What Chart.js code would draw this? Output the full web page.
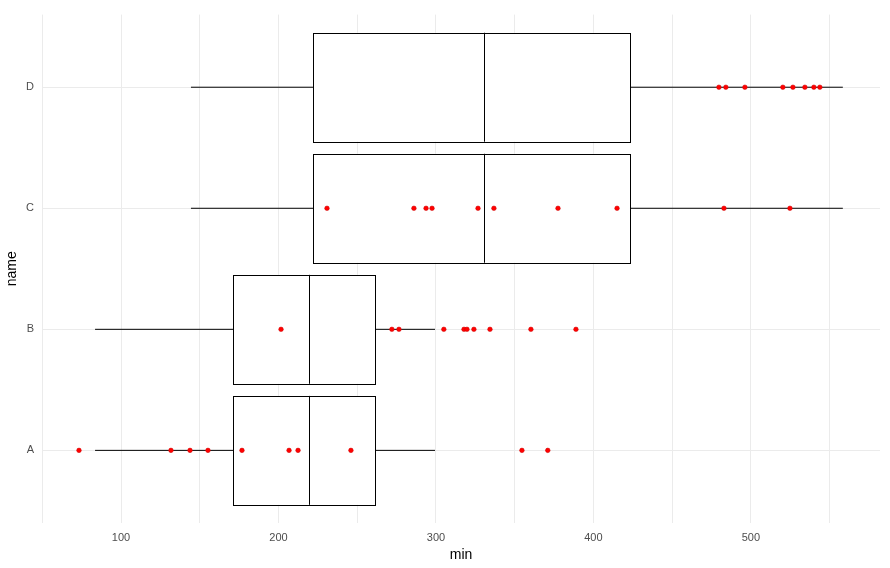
<!DOCTYPE html>
<html><head><meta charset="utf-8">
<script src="https://cdn.jsdelivr.net/npm/chart.js@4"></script>
<style>html,body{margin:0;padding:0;background:#fff}#w{width:890px;height:568px}</style>
</head><body><div id="w"><canvas id="c"></canvas></div>
<script>
const categories = ["A","B","C","D"];
const q1 = [171.1, 171.1, 221.9, 221.9];
const median = [219.4, 219.4, 330.5, 330.5];
const q3 = [261.3, 261.3, 423.2, 423.2];
const whiskerLow = [83.5, 83.5, 144.4, 144.4];
const whiskerHigh = [299.4, 299.4, 558.4, 558.4];
const pointsA = [73.3,131.7,143.8,155.2,176.8,206.7,212.4,246,354.6,371];
const pointsB = [201.6,272,276.5,305,317.8,319.7,324.1,334.3,360.3,388.9];
const pointsC = [230.8,286,293.7,297.5,326.7,336.8,377.5,415,482.9,524.8];
const pointsD = [479.7,484.1,496.2,520.3,526.7,534.3,540,543.8];
const xTicks = [50,100,150,200,250,300,350,400,450,500,550];
const xLabels = [100,200,300,400,500];

const allPts = [pointsA,pointsB,pointsC,pointsD];
const scatter = [];
allPts.forEach((arr,i)=>arr.forEach(v=>scatter.push({x:v,y:i+1})));

const boxPlugin = {
  id:'boxes',
  beforeDatasetsDraw(chart){
    const ctx=chart.ctx, xs=chart.scales.x, ys=chart.scales.y;
    ctx.save(); ctx.strokeStyle='#000'; ctx.lineWidth=1;
    categories.forEach((c,i)=>{
      const y=ys.getPixelForValue(i+1), top=ys.getPixelForValue(i+1.45), bot=ys.getPixelForValue(i+0.55);
      const a=xs.getPixelForValue(q1[i]), m=xs.getPixelForValue(median[i]), b=xs.getPixelForValue(q3[i]);
      ctx.beginPath();
      ctx.moveTo(xs.getPixelForValue(whiskerLow[i]),y); ctx.lineTo(a,y);
      ctx.moveTo(b,y); ctx.lineTo(xs.getPixelForValue(whiskerHigh[i]),y);
      ctx.stroke();
      ctx.fillStyle='#fff'; ctx.fillRect(a,top,b-a,bot-top);
      ctx.strokeRect(Math.round(a)+0.5,Math.round(top)+0.5,Math.round(b-a),Math.round(bot-top));
      ctx.beginPath(); ctx.moveTo(Math.round(m)+0.5,top); ctx.lineTo(Math.round(m)+0.5,bot); ctx.stroke();
    });
    ctx.restore();
  }
};

new Chart(document.getElementById('c'),{
  type:'scatter',
  data:{datasets:[{data:scatter,backgroundColor:'#ff0000',borderColor:'#cc0000',borderWidth:0.5,pointRadius:2.3}]},
  options:{
    responsive:true,maintainAspectRatio:false,animation:false,
    layout:{padding:{top:0,right:10,left:0,bottom:0}},
    plugins:{legend:{display:false},tooltip:{enabled:false}},
    scales:{
      x:{min:49.8,max:582,
        afterBuildTicks:s=>{s.ticks=xTicks.map(v=>({value:v}));},
        afterFit:s=>{s.height=45;},
        grid:{color:'#ebebeb',drawTicks:false},border:{display:false},
        ticks:{padding:8,color:'#4d4d4d',font:{family:'Liberation Sans',size:11},
          callback:v=>xLabels.includes(v)?String(v):''},
        title:{display:true,text:'min',color:'#000',font:{family:'Liberation Sans',size:14},padding:{top:0}}},
      y:{min:0.4,max:4.6,
        afterBuildTicks:s=>{s.ticks=[1,2,3,4].map(v=>({value:v}));},
        afterFit:s=>{s.width=42;},
        grid:{color:'#ebebeb',drawTicks:false},border:{display:false},
        ticks:{padding:8,color:'#4d4d4d',font:{family:'Liberation Sans',size:11},
          callback:v=>categories[v-1]||''},
        title:{display:true,text:'name',color:'#000',font:{family:'Liberation Sans',size:14},padding:{bottom:2}}}
    }
  },
  plugins:[boxPlugin]
});
</script></body></html>
